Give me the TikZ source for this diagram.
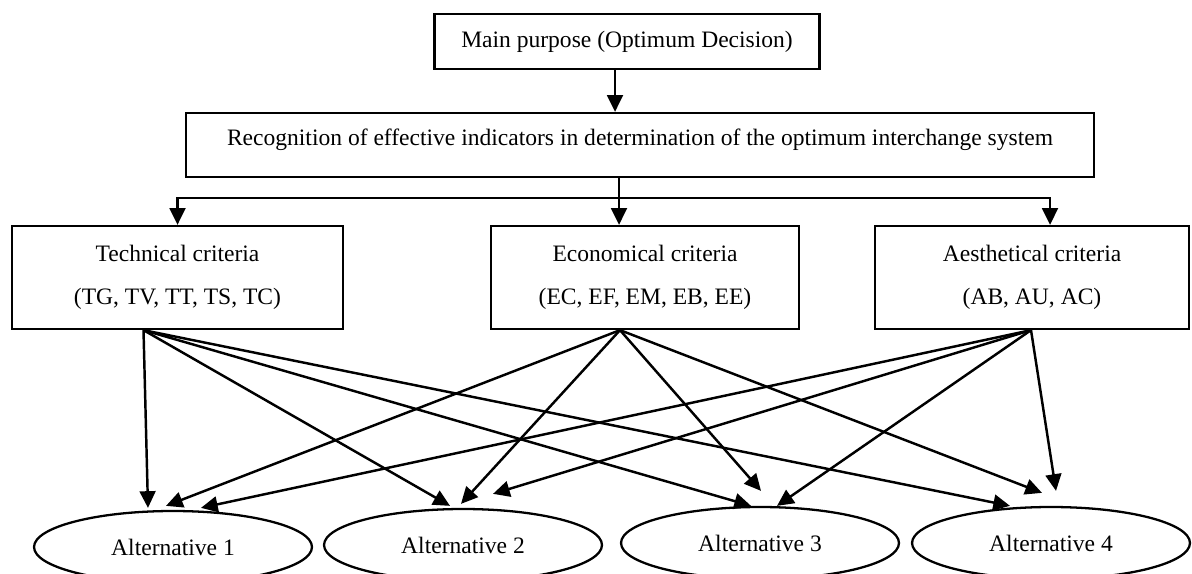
\documentclass[tikz,border=0pt]{standalone}
\usepackage{fontspec}
\setmainfont{Liberation Serif}
\usetikzlibrary{arrows.meta,shapes.geometric}

\begin{document}
\begin{tikzpicture}[x=0.02cm,y=-0.02cm,
  font=\fontsize{13.4}{24.5}\selectfont,
  box/.style={draw,line width=1.3pt,inner sep=0pt,align=center},
  alt/.style={draw,ellipse,line width=1.3pt,inner sep=0pt,minimum width=5.56cm,minimum height=1.44cm},
  arr/.style={line width=1.4pt,-{Triangle[length=9.5pt,width=9pt]}}]
\useasboundingbox (0,0) rectangle (1192,574);
% boxes
\node[box,minimum width=7.7cm,minimum height=1.1cm] (main) at (627,41.5) {Main purpose (Optimum Decision)};
\node[box,minimum width=18.16cm,minimum height=1.28cm,text depth=8.4pt] (recog) at (640,145)
  {Recognition of effective indicators in determination of the optimum interchange system};
\node[box,minimum width=6.62cm,minimum height=2.06cm] (tech) at (177.5,277.5) {Technical criteria\\(TG, TV, TT, TS, TC)};
\node[box,minimum width=6.16cm,minimum height=2.06cm] (econ) at (645,277.5) {Economical criteria\\(EC, EF, EM, EB, EE)};
\node[box,minimum width=6.28cm,minimum height=2.06cm] (aest) at (1032,277.5) {Aesthetical criteria\\(AB, AU, AC)};
% alternatives
\node[alt] (alt1) at (173,547) {Alternative 1};
\node[alt] (alt2) at (463,545) {Alternative 2};
\node[alt] (alt3) at (760,543) {Alternative 3};
\node[alt] (alt4) at (1051,543) {Alternative 4};
% top part
\coordinate (mainout) at ([shift={(-12,0)}]main.south);
\draw[arr] (mainout) -- (mainout |- recog.north);
\coordinate (split) at (619,198);
\draw[line width=1.3pt] (split |- recog.south) -- (split);
\draw[arr] (split) -| (tech.north);
\draw[arr] (split) -- (split |- econ.north);
\draw[arr] (split) -| ([shift={(18,0)}]aest.north);
% criteria to alternatives
\coordinate (techout) at ([shift={(-34,0)}]tech.south);
\coordinate (econout) at ([shift={(-25,0)}]econ.south);
\coordinate (aestout) at ([shift={(-1,0)}]aest.south);
\draw[arr] (techout) -- ([shift={(-25,-2)}]alt1.north);
\draw[arr] (techout) -- ([shift={(-13,-2)}]alt2.north);
\draw[arr] (techout) -- ([shift={(-9,0)}]alt3.north);
\draw[arr] (techout) -- ([shift={(-41,0)}]alt4.north);
\draw[arr] (econout) -- ([shift={(-7,-4)}]alt1.north);
\draw[arr] (econout) -- ([shift={(-2,-4)}]alt2.north);
\draw[arr] (econout) -- ([shift={(1,-15)}]alt3.north);
\draw[arr] (econout) -- ([shift={(-9,-13)}]alt4.north);
\draw[arr] (aestout) -- ([shift={(28,-2)}]alt1.north);
\draw[arr] (aestout) -- ([shift={(30,-14)}]alt2.north);
\draw[arr] (aestout) -- ([shift={(17,0)}]alt3.north);
\draw[arr] (aestout) -- ([shift={(5,-15)}]alt4.north);
\end{tikzpicture}
\end{document}
